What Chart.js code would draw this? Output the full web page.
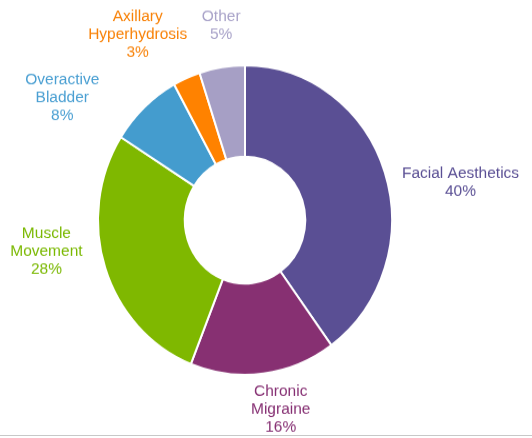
<!DOCTYPE html>
<html>
<head>
<meta charset="utf-8">
<script src="https://cdn.jsdelivr.net/npm/chart.js@4.4.1/dist/chart.umd.min.js"></script>
<style>
  html, body { margin: 0; padding: 0; background: #fff; }
  #wrap { position: absolute; left: 0; top: 0; width: 532px; height: 416px;
          transform: scaleY(1.053); transform-origin: 0 0; }
  #rule { position: absolute; left: 0; top: 435px; width: 532px; height: 1px; background: #c8c8c8; }
</style>
</head>
<body>
<div id="wrap"><canvas id="c"></canvas></div>
<div id="rule"></div>
<script>
const categories = ["Facial Aesthetics", "Chronic Migraine", "Muscle Movement", "Overactive Bladder", "Axillary Hyperhydrosis", "Other"];
const labelLines = [["Facial Aesthetics"], ["Chronic", "Migraine"], ["Muscle", "Movement"], ["Overactive", "Bladder"], ["Axillary", "Hyperhydrosis"], ["Other"]];
const values = [40, 16, 28, 8, 3, 5];
const sliceColors = ["#5A4F94", "#873072", "#7FB800", "#449CCE", "#FF8200", "#A69FC5"];
const textColors = ["#5A4F94", "#863073", "#7AB800", "#4A9FD2", "#F88208", "#A9A3C9"];

// label anchor offsets from centre, in units of outer radius (layout only)
const labelOffsets = [[1.466, -0.302], [0.243, 1.109], [-1.351, 0.089], [-1.243, -0.905], [-0.730, -1.316], [-0.162, -1.316]];

const outsideLabels = {
  id: 'outsideLabels',
  afterDraw(chart) {
    const ctx = chart.ctx;
    const meta = chart.getDatasetMeta(0);
    const arc0 = meta.data[0];
    const cx = arc0.x, cy = arc0.y, r = arc0.outerRadius;
    const total = values.reduce((a, b) => a + b, 0);
    ctx.save();
    ctx.font = '15.5px "Liberation Sans", Arial, sans-serif';
    ctx.textAlign = 'center';
    ctx.textBaseline = 'middle';
    const lh = 17;
    values.forEach((v, i) => {
      const lines = labelLines[i].concat([Math.round(v / total * 100) + '%']);
      const x = cx + labelOffsets[i][0] * r;
      const y0 = cy + labelOffsets[i][1] * r;
      ctx.fillStyle = textColors[i];
      lines.forEach((t, k) => ctx.fillText(t, x, y0 + k * lh));
    });
    ctx.restore();
  }
};

new Chart(document.getElementById('c'), {
  type: 'doughnut',
  data: {
    labels: categories,
    datasets: [{
      data: values,
      backgroundColor: sliceColors,
      borderColor: '#ffffff',
      borderWidth: 2
    }]
  },
  options: {
    responsive: true,
    maintainAspectRatio: false,
    animation: false,
    cutout: '41%',
    layout: { padding: { left: 97, right: 139, top: 61, bottom: 59 } },
    plugins: { legend: { display: false }, tooltip: { enabled: false } }
  },
  plugins: [outsideLabels]
});
</script>
</body>
</html>
